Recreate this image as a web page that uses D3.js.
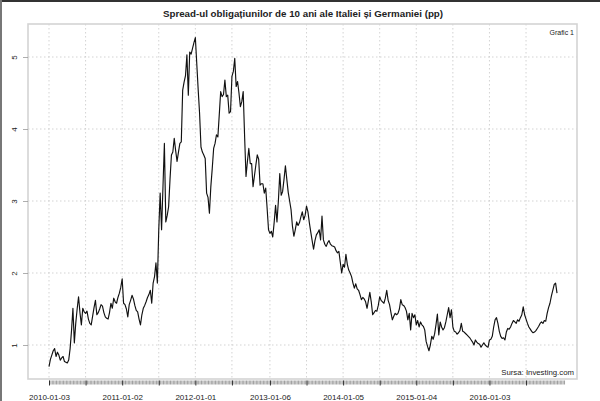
<!DOCTYPE html>
<html>
<head>
<meta charset="utf-8">
<script src="https://cdn.jsdelivr.net/npm/d3@7"></script>
<style>
  body { margin: 0; background: #fff; }
  text { font-family: "Liberation Sans", Arial, sans-serif; fill: #222; }
</style>
</head>
<body>
<svg id="chart" width="600" height="401"></svg>
<script>
// weekly spread Italy - Germany (pp), first observation 2010-01-03
const startDate = "2010-01-03";
const spread = [
  0.70, 0.80, 0.86, 0.92, 0.95, 0.84, 0.90, 0.86, 0.79, 0.82,
  0.84, 0.77, 0.76, 0.75, 0.79, 0.95, 1.20, 1.51, 1.03, 1.30,
  1.50, 1.67, 1.45, 1.28, 1.51, 1.46, 1.44, 1.47, 1.36, 1.30,
  1.28, 1.40, 1.52, 1.62, 1.42, 1.45, 1.50, 1.56, 1.54, 1.45,
  1.39, 1.37, 1.36, 1.45, 1.58, 1.51, 1.65, 1.60, 1.58, 1.66,
  1.72, 1.80, 1.92, 1.58, 1.56, 1.50, 1.39, 1.56, 1.62, 1.69,
  1.64, 1.55, 1.48, 1.46, 1.36, 1.28, 1.42, 1.51, 1.55, 1.60,
  1.66, 1.70, 1.76, 1.58, 1.86, 1.95, 2.14, 1.86, 2.60, 3.11,
  2.60, 3.20, 3.80, 2.71, 2.80, 2.92, 3.30, 3.64, 3.68, 3.87,
  3.70, 3.55, 3.68, 3.80, 3.82, 4.54, 4.65, 4.74, 5.03, 4.47,
  5.07, 5.04, 5.12, 5.20, 5.27, 4.91, 4.55, 4.22, 3.75, 3.68,
  3.64, 3.59, 3.11, 3.05, 2.83, 3.20, 3.45, 3.73, 3.80, 3.92,
  3.89, 4.20, 4.52, 4.45, 4.48, 4.68, 4.45, 4.47, 4.22, 4.24,
  4.73, 4.80, 4.98, 4.59, 4.66, 4.50, 4.31, 4.38, 4.52, 3.90,
  3.34, 3.55, 3.73, 3.52, 3.52, 3.20, 3.35, 3.50, 3.64, 3.58,
  3.22, 3.24, 3.24, 3.11, 3.18, 2.90, 2.60, 2.55, 2.58, 2.50,
  2.70, 2.94, 2.71, 3.00, 3.38, 3.08, 3.13, 3.30, 3.49, 3.30,
  3.12, 3.00, 2.88, 2.65, 2.51, 2.60, 2.71, 2.66, 2.70, 2.78,
  2.85, 2.74, 2.80, 2.93, 2.85, 2.70, 2.57, 2.45, 2.33, 2.45,
  2.53, 2.56, 2.60, 2.46, 2.79, 2.46, 2.40, 2.37, 2.42, 2.45,
  2.40, 2.38, 2.37, 2.36, 2.31, 2.28, 2.30, 2.15, 2.00, 2.12,
  2.08, 2.26, 2.12, 2.04, 2.00, 1.95, 1.86, 1.79, 1.85, 1.78,
  1.76, 1.70, 1.63, 1.66, 1.64, 1.60, 1.51, 1.62, 1.73, 1.60,
  1.42, 1.45, 1.48, 1.47, 1.55, 1.67, 1.62, 1.60, 1.58, 1.65,
  1.76, 1.62, 1.56, 1.45, 1.35, 1.40, 1.44, 1.42, 1.44, 1.50,
  1.63, 1.56, 1.55, 1.52, 1.47, 1.35, 1.44, 1.21, 1.44, 1.38,
  1.42, 1.28, 1.34, 1.25, 1.32, 1.28, 1.26, 1.21, 1.05, 0.98,
  0.92, 1.00, 1.12, 1.08, 1.15, 1.28, 1.43, 1.14, 1.32, 1.25,
  1.21, 1.24, 1.32, 1.42, 1.52, 1.38, 1.49, 1.25, 1.19, 1.18,
  1.15, 1.17, 1.20, 1.30, 1.19, 1.18, 1.16, 1.14, 1.12, 1.10,
  1.07, 1.04, 1.00, 1.07, 1.04, 1.02, 1.01, 0.97, 1.00, 1.03,
  1.00, 0.98, 0.97, 1.07, 1.08, 1.12, 1.25, 1.35, 1.38, 1.30,
  1.19, 1.12, 1.09, 1.10, 1.07, 1.18, 1.23, 1.22, 1.25, 1.30,
  1.34, 1.32, 1.30, 1.35, 1.33, 1.38, 1.42, 1.53, 1.42, 1.36,
  1.30, 1.25, 1.22, 1.19, 1.17, 1.18, 1.20, 1.23, 1.26, 1.30,
  1.32, 1.30, 1.34, 1.33, 1.44, 1.52, 1.58, 1.68, 1.76, 1.84,
  1.86, 1.72
];
const labelDates = ["2010-01-03", "2011-01-02", "2012-01-01", "2013-01-06",
                    "2014-01-05", "2015-01-04", "2016-01-03"];
const yTicks = [1, 2, 3, 4, 5];
const titleText = "Spread-ul obligațiunilor de 10 ani ale Italiei și Germaniei (pp)";
const noteText = "Grafic 1";
const sourceText = "Sursa: Investing.com";

const parse = d3.utcParse("%Y-%m-%d");
const fmt = d3.utcFormat("%Y-%m-%d");
const start = parse(startDate);
const data = spread.map(function (v, i) {
    return { date: d3.utcDay.offset(start, 7 * i), y: v };
});

// plot box
const box = { left: 28, right: 577, top: 24, bottom: 379 };

const svg = d3.select("#chart");

// outer frame of the picture
svg.append("line").attr("x1", 0).attr("x2", 600).attr("y1", 1).attr("y2", 1)
    .attr("stroke", "#333").attr("stroke-width", 2);
svg.append("line").attr("x1", 1).attr("x2", 1).attr("y1", 0).attr("y2", 401)
    .attr("stroke", "#777").attr("stroke-width", 2);

// scales
var xScale = d3.scaleUtc()
    .domain([data[0].date, data[data.length - 1].date])
    .range([49, 557]);

var yScale = d3.scaleLinear()
    .domain([1, 5])
    .range([345, 57]);

// major ticks: every label date plus half a year after it
const labelDatesParsed = labelDates.map(parse);
var majorDates = [];
labelDatesParsed.forEach(function (d) {
    majorDates.push(d);
    majorDates.push(d3.utcDay.offset(d, 182));
});
// minor ticks: one per observation (and a few past the end, like the original)
var minorDates = data.map(function (d) { return d.date; });
for (var k = 1; k <= 5; k++) {
    minorDates.push(d3.utcDay.offset(data[data.length - 1].date, 7 * k));
}

// grid
var grid = svg.append("g").attr("class", "grid")
    .attr("stroke", "#c8c8c8").attr("stroke-width", 0.8)
    .attr("stroke-dasharray", "1.5,2.5");
grid.selectAll(".hgrid").data(yTicks).enter().append("line")
    .attr("x1", box.left).attr("x2", box.right)
    .attr("y1", function (d) { return yScale(d); })
    .attr("y2", function (d) { return yScale(d); });
grid.selectAll(".vgrid").data(majorDates).enter().append("line")
    .attr("x1", function (d) { return xScale(d); })
    .attr("x2", function (d) { return xScale(d); })
    .attr("y1", box.top).attr("y2", box.bottom);

// box
svg.append("rect")
    .attr("x", box.left).attr("y", box.top)
    .attr("width", box.right - box.left).attr("height", box.bottom - box.top)
    .attr("fill", "none").attr("stroke", "#d4d4d4").attr("stroke-width", 1.6);

// x axis: minor ticks
var xMinor = d3.axisBottom(xScale).tickValues(minorDates).tickSize(4).tickFormat("");
svg.append("g")
    .attr("class", "x axis minor")
    .attr("transform", "translate(0," + (box.bottom + 1.5) + ")")
    .call(xMinor)
    .call(function (g) {
        g.select(".domain").remove();
        g.selectAll(".tick line").attr("stroke", "#808080").attr("stroke-width", 0.75);
    });

// x axis: major ticks + labels
var xMajor = d3.axisBottom(xScale).tickValues(majorDates).tickSize(5).tickPadding(9)
    .tickFormat(function (d) {
        return labelDatesParsed.some(function (l) { return +l === +d; }) ? fmt(d) : "";
    });
svg.append("g")
    .attr("class", "x axis major")
    .attr("transform", "translate(0," + (box.bottom + 1.5) + ")")
    .call(xMajor)
    .call(function (g) {
        g.select(".domain").remove();
        g.selectAll(".tick line").attr("stroke", "#222").attr("stroke-width", 0.9);
        g.selectAll(".tick text").attr("font-size", "8px")
            .attr("font-family", "Liberation Sans, Arial, sans-serif").attr("fill", "#222");
    });

// y axis
var yAxis = d3.axisLeft(yScale).tickValues(yTicks).tickSize(5).tickPadding(0).tickFormat(d3.format("d"));
svg.append("g")
    .attr("class", "y axis")
    .attr("transform", "translate(" + box.left + ",0)")
    .call(yAxis)
    .call(function (g) {
        g.select(".domain").remove();
        g.selectAll(".tick line").attr("stroke", "#999").attr("stroke-width", 0.8);
        g.selectAll(".tick text")
            .attr("font-size", "8px")
            .attr("font-family", "Liberation Sans, Arial, sans-serif")
            .attr("fill", "#222")
            .attr("text-anchor", "middle")
            .attr("dy", 0)
            .attr("x", 0)
            .attr("transform", "translate(-14,0) rotate(-90)")
            .attr("dominant-baseline", "central");
    });

// the series
var line = d3.line()
    .x(function (d) { return xScale(d.date); })
    .y(function (d) { return yScale(d.y); });

svg.append("path")
    .datum(data)
    .attr("class", "lineSpread")
    .attr("fill", "none")
    .attr("stroke", "#111")
    .attr("stroke-width", 1.15)
    .attr("stroke-linejoin", "round")
    .attr("d", line);

// texts
svg.append("text")
    .attr("x", 303).attr("y", 17)
    .attr("text-anchor", "middle")
    .attr("font-size", "9.75px").attr("font-weight", "bold")
    .text(titleText);

svg.append("text")
    .attr("x", 574).attr("y", 35)
    .attr("text-anchor", "end")
    .attr("font-size", "7px")
    .text(noteText);

svg.append("text")
    .attr("x", 574).attr("y", 375)
    .attr("text-anchor", "end")
    .attr("font-size", "7.8px")
    .text(sourceText);
</script>
</body>
</html>
